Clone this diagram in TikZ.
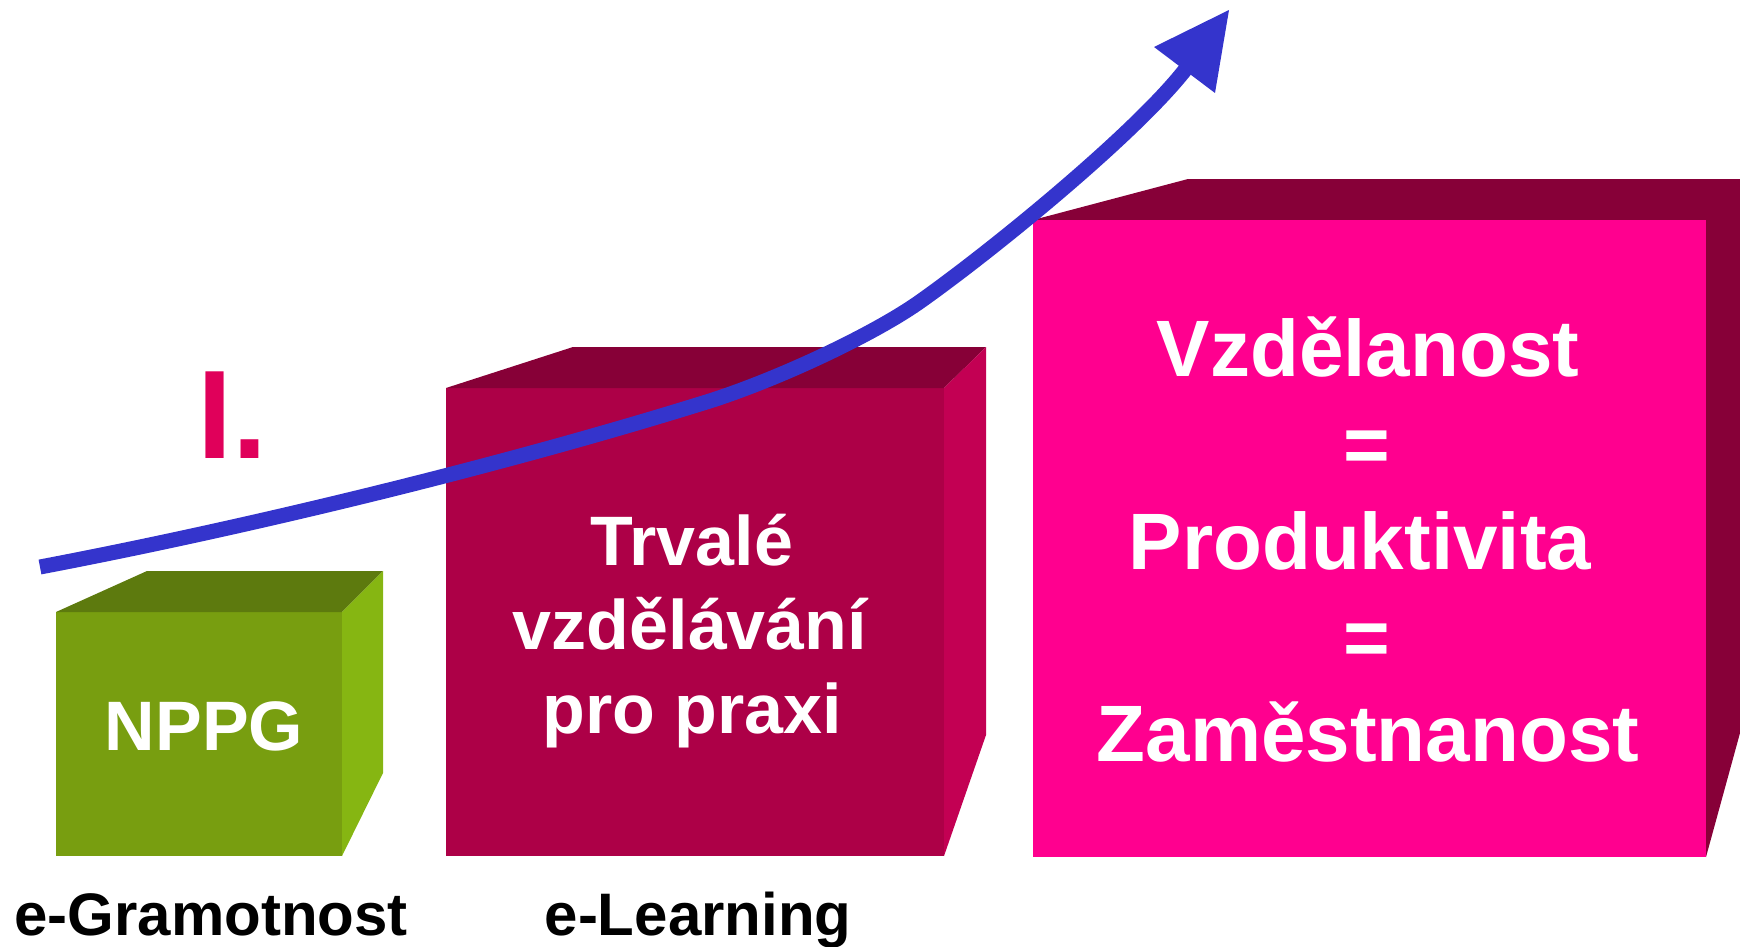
\documentclass[tikz,border=0pt]{standalone}
\usepackage{fontspec}
\setmainfont{Liberation Sans}
\usetikzlibrary{arrows.meta}
\definecolor{gfront}{HTML}{789E10}
\definecolor{gtop}{HTML}{5D7A0E}
\definecolor{gside}{HTML}{86B612}
\definecolor{mfront}{HTML}{AD0047}
\definecolor{mtop}{HTML}{870037}
\definecolor{mside}{HTML}{C30053}
\definecolor{pfront}{HTML}{FF008F}
\definecolor{pdark}{HTML}{870038}
\definecolor{arrowblue}{HTML}{3434CC}
\definecolor{labelred}{HTML}{E0005A}
\tikzset{
  boxtxt/.style={text=white,font=\bfseries\fontsize{35}{42}\selectfont,anchor=base,inner sep=0pt},
  bigtxt/.style={text=white,font=\bfseries\fontsize{40}{48}\selectfont,anchor=base,inner sep=0pt},
  captxt/.style={text=black,font=\bfseries\fontsize{30}{36}\selectfont,anchor=base,inner sep=0pt},
  arrowline/.style={draw=arrowblue,line width=7.5pt},
}
\begin{document}
\begin{tikzpicture}[x=0.5pt,y=-0.5pt]
\useasboundingbox (0,0) rectangle (1740,947);
% green box
\fill[gfront] (56,612) rectangle (342,856);
\fill[gtop] (56,612) -- (147,571) -- (383,571) -- (342,612) -- cycle;
\fill[gside] (342,612) -- (383,571) -- (383,773) -- (342,856) -- cycle;
% maroon box
\fill[mfront] (446,388) rectangle (944,856);
\fill[mtop] (446,388) -- (573,347) -- (986,347) -- (944,388) -- cycle;
\fill[mside] (944,388) -- (986,347) -- (986,735) -- (944,856) -- cycle;
% pink box
\fill[pdark] (1033,220) -- (1188,179) -- (1740,179) -- (1740,733) -- (1706,857) -- (1706,220) -- cycle;
\fill[pfront] (1033,220) rectangle (1706,857);
% texts
\node[boxtxt] (nppg) at (204,750) {NPPG};
\node[boxtxt] (t1) at (692,565) {Trvalé};
\node[boxtxt] (t2) at (690,649) {vzdělávání};
\node[boxtxt] (t3) at (692,733) {pro praxi};
\node[bigtxt] (p1) at (1368,376) {Vzdělanost};
\node[bigtxt] (p2) at (1367,472) {=};
\node[bigtxt] (p3) at (1360,569) {Produktivita};
\node[bigtxt] (p4) at (1367,665) {=};
\node[bigtxt] (p5) at (1368,761) {Zaměstnanost};
\node[captxt] (c1) at (211,935) {e-Gramotnost};
\node[captxt] (c2) at (698,935) {e-Learning};
\node[anchor=base west,inner sep=0pt,text=labelred,font=\bfseries\fontsize{63}{70}\selectfont] (roman) at (197,458) {I.};
% arrow
\coordinate (astart) at (40,567);
\coordinate (am1) at (700,404);
\coordinate (am2) at (918,303);
\coordinate (aend) at (1188,66);
\coordinate (atip) at (1229,10);
\coordinate (al) at (1154,47);
\coordinate (ar) at (1215,93);
\draw[arrowline] (astart) .. controls (250,527) and (500,466) .. (am1)
  .. controls (770,383) and (869,337) .. (am2)
  .. controls (992,251) and (1140,130) .. (aend);
\fill[arrowblue] (atip) -- (al) -- (ar) -- cycle;
\end{tikzpicture}
\end{document}
